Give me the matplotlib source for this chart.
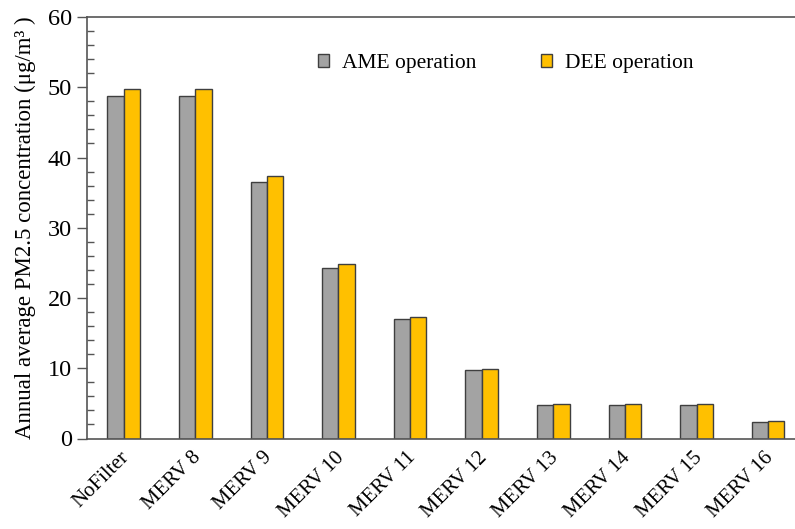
import matplotlib.pyplot as plt
from matplotlib.patches import Patch
from matplotlib.ticker import MultipleLocator
from matplotlib.transforms import ScaledTranslation
import numpy as np

plt.rcParams['font.family'] = ['Liberation Serif', 'DejaVu Serif']

filters = ['NoFilter', 'MERV 8', 'MERV 9', 'MERV 10', 'MERV 11',
           'MERV 12', 'MERV 13', 'MERV 14', 'MERV 15', 'MERV 16']
ame = [48.8, 48.8, 36.5, 24.3, 17.0, 9.75, 4.8, 4.8, 4.8, 2.3]
dee = [49.7, 49.7, 37.3, 24.9, 17.3, 9.9, 4.95, 4.95, 4.95, 2.5]

gray = '#a3a3a3'
gold = '#ffc000'
edge = '#3f3f3f'

fig = plt.figure(figsize=(7.95, 5.29), dpi=100)
ax = fig.add_axes([87 / 795, 1 - 438.5 / 529, 1 - 87 / 795, (438.5 - 17) / 529])

x = np.arange(len(filters))
w = 0.228
ax.bar(x - w / 2, ame, w, color=gray, edgecolor=edge, linewidth=1.0, zorder=2)
ax.bar(x + w / 2, dee, w, color=gold, edgecolor=edge, linewidth=1.0, zorder=2)

ax.set_xlim(-0.512, 9.375)
ax.set_ylim(0, 60)
ax.yaxis.set_major_locator(MultipleLocator(10))
ax.yaxis.set_minor_locator(MultipleLocator(2))
ax.tick_params(axis='y', which='major', direction='out', length=7, width=1,
               color='#555555', labelsize=17.5, pad=4)
ax.tick_params(axis='y', which='minor', direction='in', length=5, width=1,
               color='#555555')
ax.set_xticks(x)
ax.set_xticklabels(filters, rotation=45, ha='right', va='top',
                   rotation_mode='anchor', fontsize=15)
ax.tick_params(axis='x', length=0, pad=7)
# nudge the slanted labels a little to the left
shift = ScaledTranslation(-4 / 100, 0, fig.dpi_scale_trans)
for lab in ax.get_xticklabels():
    lab.set_transform(lab.get_transform() + shift)

for side in ['left', 'bottom', 'top']:
    ax.spines[side].set_color('#555555')
    ax.spines[side].set_linewidth(1.2)
ax.spines['right'].set_visible(False)

ax.set_ylabel('Annual average PM2.5 concentration (μg/m³ )', fontsize=16.5,
              labelpad=8)

handles = [Patch(facecolor=gray, edgecolor=edge, label='AME operation'),
           Patch(facecolor=gold, edgecolor=edge, label='DEE operation')]
ax.legend(handles=handles, ncol=2, frameon=False, fontsize=15.5,
          loc='center left', bbox_to_anchor=(0.326, 0.89),
          borderpad=0, borderaxespad=0,
          handlelength=0.52, handleheight=0.52, handletextpad=0.6,
          columnspacing=3.0)

fig.savefig('out.png', dpi=100)
